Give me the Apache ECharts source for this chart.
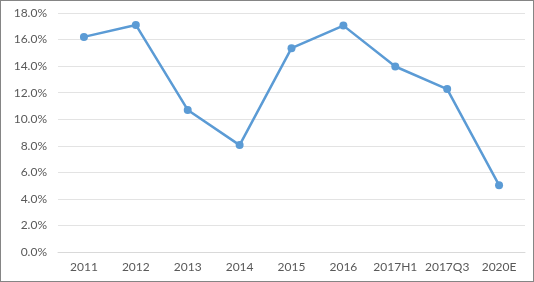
<!DOCTYPE html>
<html><head><meta charset="utf-8">
<script src="https://cdn.jsdelivr.net/npm/echarts@6/dist/echarts.min.js"></script>
<style>html,body{margin:0;padding:0;background:#fff;}#c{width:534px;height:282px;box-sizing:border-box;border:1px solid #858585;}</style>
</head><body><div id="c"></div>
<script>
const categories = ['2011','2012','2013','2014','2015','2016','2017H1','2017Q3','2020E'];
const values = [16.2, 17.1, 10.7, 8.05, 15.35, 17.05, 13.97, 12.27, 5.03];
const chart = echarts.init(document.getElementById('c'));
chart.setOption({
  animation:false,
  grid:{left:57,right:8,top:12,bottom:29,containLabel:false},
  xAxis:{type:'category',data:categories,boundaryGap:true,
    axisLine:{lineStyle:{color:'#d9d9d9'}},axisTick:{show:false},
    axisLabel:{color:'#595959',fontFamily:'Lato',fontSize:12,margin:9,interval:0,hideOverlap:false}},
  yAxis:{type:'value',min:0,max:18,interval:2,
    axisLabel:{color:'#595959',fontFamily:'Lato',fontSize:12,margin:11,formatter:v=>v.toFixed(1)+'%'},
    axisLine:{show:false},axisTick:{show:false},
    splitLine:{lineStyle:{color:'#e3e3e3'}}},
  series:[{type:'line',data:values,symbol:'circle',symbolSize:8,
    lineStyle:{color:'#5b9bd5',width:2.5},itemStyle:{color:'#5b9bd5'}}]
});
</script></body></html>
